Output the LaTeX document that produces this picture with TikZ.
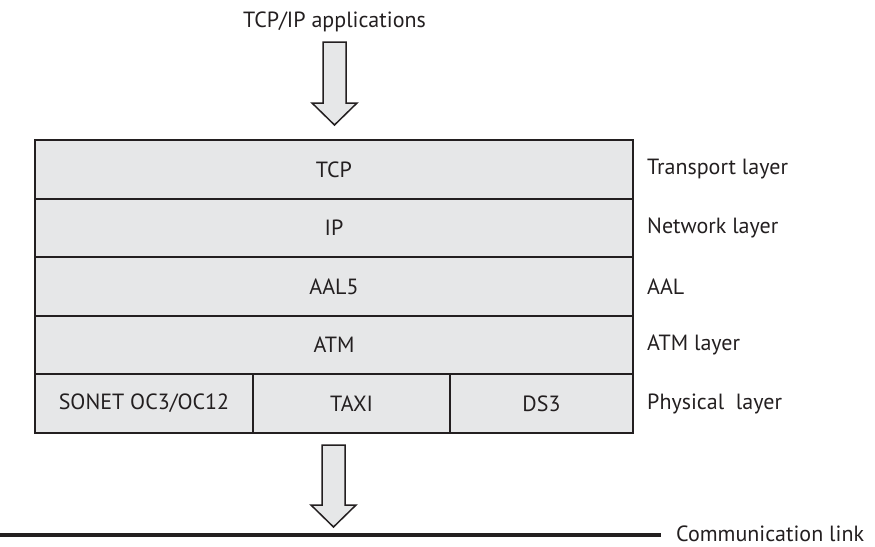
\documentclass[tikz,border=0pt]{standalone}
\usepackage{fontspec}
\setmainfont{PT Sans}
\definecolor{layerfill}{HTML}{E6E7E8}
\definecolor{ink}{HTML}{231F20}
\begin{document}
\begin{tikzpicture}[x=1pt,y=-1pt,
  every node/.style={font=\fontsize{22}{26}\selectfont, text=ink},
  layerbox/.style={draw=ink, line width=2pt, fill=layerfill, rectangle, inner sep=0pt,
                   minimum height=58.6pt},
  sidelabel/.style={anchor=west, inner sep=0pt},
  blockarrow/.style={draw=ink, line width=1.5pt, fill=layerfill, line join=miter}]
\useasboundingbox (0,0) rectangle (875,546);

% protocol stack
\node[layerbox, minimum width=598pt] (tcp)  at (334,169.3) {TCP};
\node[layerbox, minimum width=598pt] (ip)   at (334,227.9) {IP};
\node[layerbox, minimum width=598pt] (aal)  at (334,286.5) {AAL5};
\node[layerbox, minimum width=598pt] (atm)  at (334,345.1) {ATM};
\node[layerbox, minimum width=218pt] (sonet) at (144,403.7) {SONET OC3/OC12};
\node[layerbox, minimum width=197pt] (taxi)  at (351.5,403.7) {TAXI};
\node[layerbox, minimum width=183pt] (ds3)   at (541.5,403.7) {DS3};

% layer names
\node[sidelabel] (ltcp) at (647,169.3) {Transport layer};
\node[sidelabel] (lip)  at (647,227.9) {Network layer};
\node[sidelabel] (laal) at (647,286.5) {AAL};
\node[sidelabel] (latm) at (647,345.1) {ATM layer};
\node[sidelabel] (lphy) at (647,403.7) {Physical\ \ layer};

% applications on top
\node (apps) at (334.5,22) {TCP/IP applications};
\coordinate (topin) at (334.5,42);
\draw[blockarrow] ([xshift=-11.5pt]topin) -- ++(23,0) -- ++(0,61) -- ++(11,0)
  -- ++(-22.5,22) -- ++(-22.5,-22) -- ++(11,0) -- cycle;

% down to the link
\coordinate (botin) at (333.5,445);
\draw[blockarrow] ([xshift=-11.5pt]botin) -- ++(23,0) -- ++(0,60) -- ++(11,0)
  -- ++(-22.5,22) -- ++(-22.5,-22) -- ++(11,0) -- cycle;

% communication link
\coordinate (linkstart) at (0,535);
\node[sidelabel] (link) at (676,534) {Communication link};
\draw[ink, line width=4pt] (linkstart) -- (661,535);
\end{tikzpicture}
\end{document}
